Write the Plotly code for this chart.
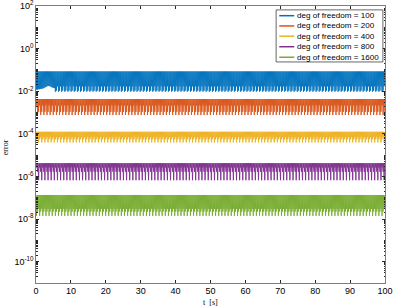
import plotly.graph_objects as go

# ---- data ----
dof = [100, 200, 400, 800, 1600]
colors = ["#0072BD", "#D95319", "#EDB120", "#7E2F8E", "#77AC30"]
peak_error = [0.085, 0.0043, 1.25e-4, 4.2e-6, 1.35e-7]      # upper envelope of each band
# depth (in decades below the peak) of successive dips
dip_decades = [0.95, 0.45, 0.8, 0.3, 1.0, 0.65, 0.35, 0.9, 0.55, 0.2,
               0.75, 0.5, 0.98, 0.25, 0.7, 0.85, 0.4, 0.6, 0.15, 0.78, 0.5]
blue_start_dips = [0.012, 0.012, 0.0125, 0.0125, 0.013, 0.013, 0.0135, 0.014, 0.015, 0.016,
                   0.017, 0.0175, 0.0175, 0.017, 0.016, 0.015, 0.0145, 0.014]
period = 0.3      # s, oscillation period
t_end = 100.0

y_tickvals = [1e2, 1e0, 1e-2, 1e-4, 1e-6, 1e-8, 1e-10]
y_ticktext = ["10<sup>2</sup>", "10<sup>0</sup>", "10<sup>-2</sup>", "10<sup>-4</sup>",
              "10<sup>-6</sup>", "10<sup>-8</sup>", "10<sup>-10</sup>"]
x_tickvals = list(range(0, 101, 10))

n_cycles = int(round(t_end / period))
axis_col = "#262626"

fig = go.Figure()
for i, (n, c, pk) in enumerate(zip(dof, colors, peak_error)):
    t = [0.0]
    e = [pk]
    for k in range(n_cycles):
        d = dip_decades[(k * 7 + i * 3) % len(dip_decades)]
        dip = pk * 10 ** (-d)
        if i == 0 and k < len(blue_start_dips):
            dip = blue_start_dips[k]
        t += [k * period + period / 2, (k + 1) * period]
        e += [dip, pk]
    fig.add_trace(go.Scatter(x=t, y=e, mode="lines",
                             line=dict(color=c, width=0.9),
                             name=f"deg of freedom = {n}", showlegend=False))

# ---- hand-drawn legend (compact like the original) ----
lx0, lx1, ly0, ly1 = 0.688, 0.994, 0.798, 0.986
fig.add_shape(type="rect", xref="paper", yref="paper", x0=lx0, x1=lx1, y0=ly0, y1=ly1,
              line=dict(color=axis_col, width=0.7), fillcolor="white", layer="above")
row_y = [0.965, 0.928, 0.891, 0.853, 0.815]
for n, c, yy in zip(dof, colors, row_y):
    fig.add_shape(type="line", xref="paper", yref="paper", x0=0.697, x1=0.740, y0=yy, y1=yy,
                  line=dict(color=c, width=1.5), layer="above")
    fig.add_annotation(xref="paper", yref="paper", x=0.743, y=yy, xanchor="left", yanchor="middle",
                       text=f"deg of freedom = {n}", showarrow=False,
                       font=dict(family="Liberation Sans, Arial", size=8.1, color="black"))

# axis titles
fig.add_annotation(xref="paper", yref="paper", x=0.5, y=-0.072, xanchor="center", yanchor="middle",
                   text="t  [s]", showarrow=False,
                   font=dict(family="Liberation Serif, DejaVu Serif", size=8, color="black"))
fig.add_annotation(xref="paper", yref="paper", x=-0.089, y=0.49, xanchor="center", yanchor="middle",
                   text="error", showarrow=False, textangle=-90,
                   font=dict(family="Liberation Serif, DejaVu Serif", size=8, color="black"))

fig.update_layout(
    width=395, height=308,
    margin=dict(l=36, r=10, t=6, b=25),
    paper_bgcolor="white", plot_bgcolor="white",
    font=dict(family="Liberation Sans, Arial", size=9, color=axis_col),
    showlegend=False,
    xaxis=dict(range=[0, 100], tickvals=x_tickvals, ticks="inside", ticklen=3,
               showline=True, linecolor=axis_col, linewidth=0.6, mirror="ticks",
               tickcolor=axis_col, showgrid=False, zeroline=False, automargin=False,
               ticklabeloverflow="allow",
               tickfont=dict(size=9, color="black")),
    yaxis=dict(type="log", range=[-11, 2.0001], tickvals=y_tickvals, ticktext=y_ticktext,
               ticks="inside", ticklen=3, showline=True, linecolor=axis_col, linewidth=0.6,
               mirror="ticks", tickcolor=axis_col, showgrid=False, zeroline=False, automargin=False,
               ticklabeloverflow="allow",
               tickfont=dict(size=9, color="black"),
               minor=dict(ticks="inside", ticklen=1.5, dtick="D1", tickcolor=axis_col, showgrid=False)),
)

fig.write_html("out.html", config={"displayModeBar": False, "staticPlot": True},
               post_script="document.body.style.margin='0';document.body.style.overflow='hidden';")
